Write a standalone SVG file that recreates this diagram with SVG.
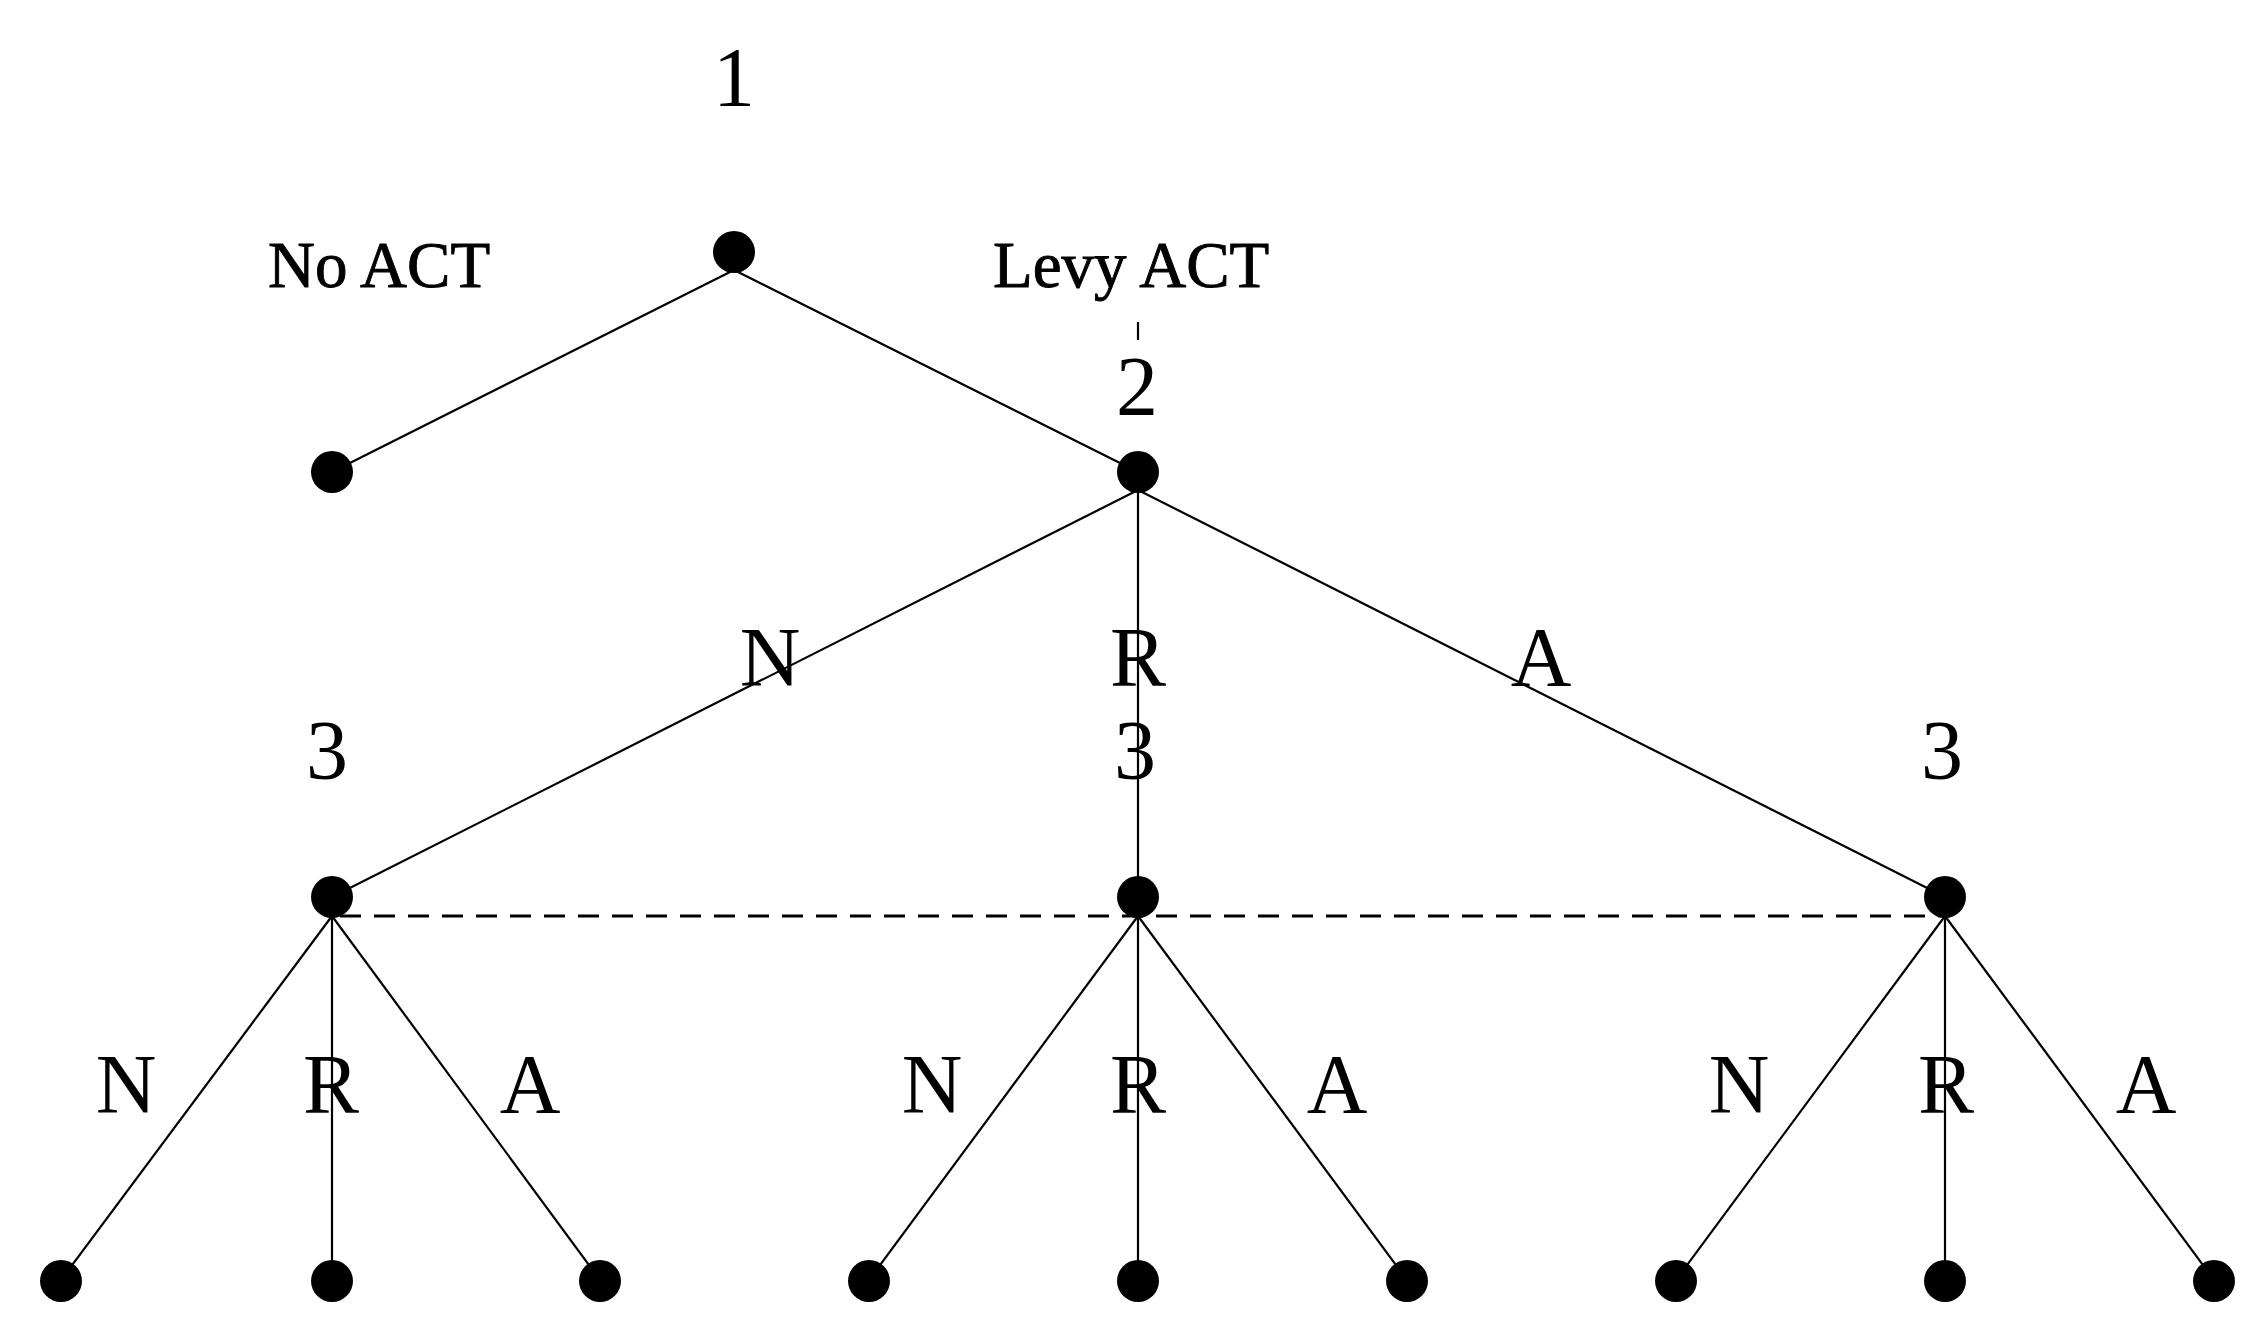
<svg xmlns="http://www.w3.org/2000/svg" width="2256" height="1336" viewBox="0 0 2256 1336">
<style>
.e{stroke:#000;stroke-width:2.2;fill:none}
.d{stroke:#000;stroke-width:3.2;stroke-dasharray:21 13;fill:none}
.n{fill:#000}
.b{font-family:"Liberation Serif","Times New Roman",serif;font-size:84px;fill:#000;text-anchor:middle}
.s{font-family:"Liberation Serif","Times New Roman",serif;font-size:65px;fill:#000;stroke:#000;stroke-width:0.9}
</style>
<rect width="2256" height="1336" fill="#fff"/>
<g id="connectors">
<line class="e" x1="734" y1="270" x2="332" y2="472"/>
<line class="e" x1="734" y1="270" x2="1138" y2="472"/>
<line class="e" x1="1138" y1="490" x2="332" y2="897"/>
<line class="e" x1="1138" y1="490" x2="1138" y2="897"/>
<line class="e" x1="1138" y1="490" x2="1945" y2="897"/>
<line class="d" x1="340" y1="916" x2="1940" y2="916"/>
<line class="e" x1="332" y1="916" x2="61" y2="1280"/>
<line class="e" x1="332" y1="916" x2="332" y2="1280"/>
<line class="e" x1="332" y1="916" x2="600" y2="1280"/>
<line class="e" x1="1138" y1="916" x2="869" y2="1280"/>
<line class="e" x1="1138" y1="916" x2="1138" y2="1280"/>
<line class="e" x1="1138" y1="916" x2="1407" y2="1280"/>
<line class="e" x1="1945" y1="916" x2="1676" y2="1280"/>
<line class="e" x1="1945" y1="916" x2="1945" y2="1280"/>
<line class="e" x1="1945" y1="916" x2="2214" y2="1280"/>
<line class="e" x1="1138" y1="322" x2="1138" y2="340"/>
</g>
<g id="edge-labels">
<text class="s" x="268" y="287">No ACT</text>
<text class="s" x="993" y="287">Levy ACT</text>
<text class="b" x="770" y="686">N</text>
<text class="b" x="1138" y="686">R</text>
<text class="b" x="1541" y="686">A</text>
<text class="b" x="126" y="1113">N</text>
<text class="b" x="331" y="1113">R</text>
<text class="b" x="530" y="1113">A</text>
<text class="b" x="932" y="1113">N</text>
<text class="b" x="1138" y="1113">R</text>
<text class="b" x="1337" y="1113">A</text>
<text class="b" x="1739" y="1113">N</text>
<text class="b" x="1946" y="1113">R</text>
<text class="b" x="2146" y="1113">A</text>
</g>
<g id="node1"><circle class="n" cx="734" cy="252" r="21"/><text class="b" x="734" y="106">1</text></g>
<g id="leaf-noact"><circle class="n" cx="332" cy="472" r="21"/></g>
<g id="node2"><circle class="n" cx="1138" cy="472" r="21"/><text class="b" x="1137" y="415">2</text></g>
<g id="node3-N"><circle class="n" cx="332" cy="897" r="21"/><text class="b" x="327" y="779">3</text></g>
<g id="node3-R"><circle class="n" cx="1138" cy="897" r="21"/><text class="b" x="1135" y="779">3</text></g>
<g id="node3-A"><circle class="n" cx="1945" cy="897" r="21"/><text class="b" x="1942" y="779">3</text></g>
<g id="leaf-NN"><circle class="n" cx="61" cy="1281" r="21"/></g>
<g id="leaf-NR"><circle class="n" cx="332" cy="1281" r="21"/></g>
<g id="leaf-NA"><circle class="n" cx="600" cy="1281" r="21"/></g>
<g id="leaf-RN"><circle class="n" cx="869" cy="1281" r="21"/></g>
<g id="leaf-RR"><circle class="n" cx="1138" cy="1281" r="21"/></g>
<g id="leaf-RA"><circle class="n" cx="1407" cy="1281" r="21"/></g>
<g id="leaf-AN"><circle class="n" cx="1676" cy="1281" r="21"/></g>
<g id="leaf-AR"><circle class="n" cx="1945" cy="1281" r="21"/></g>
<g id="leaf-AA"><circle class="n" cx="2214" cy="1281" r="21"/></g>
</svg>
